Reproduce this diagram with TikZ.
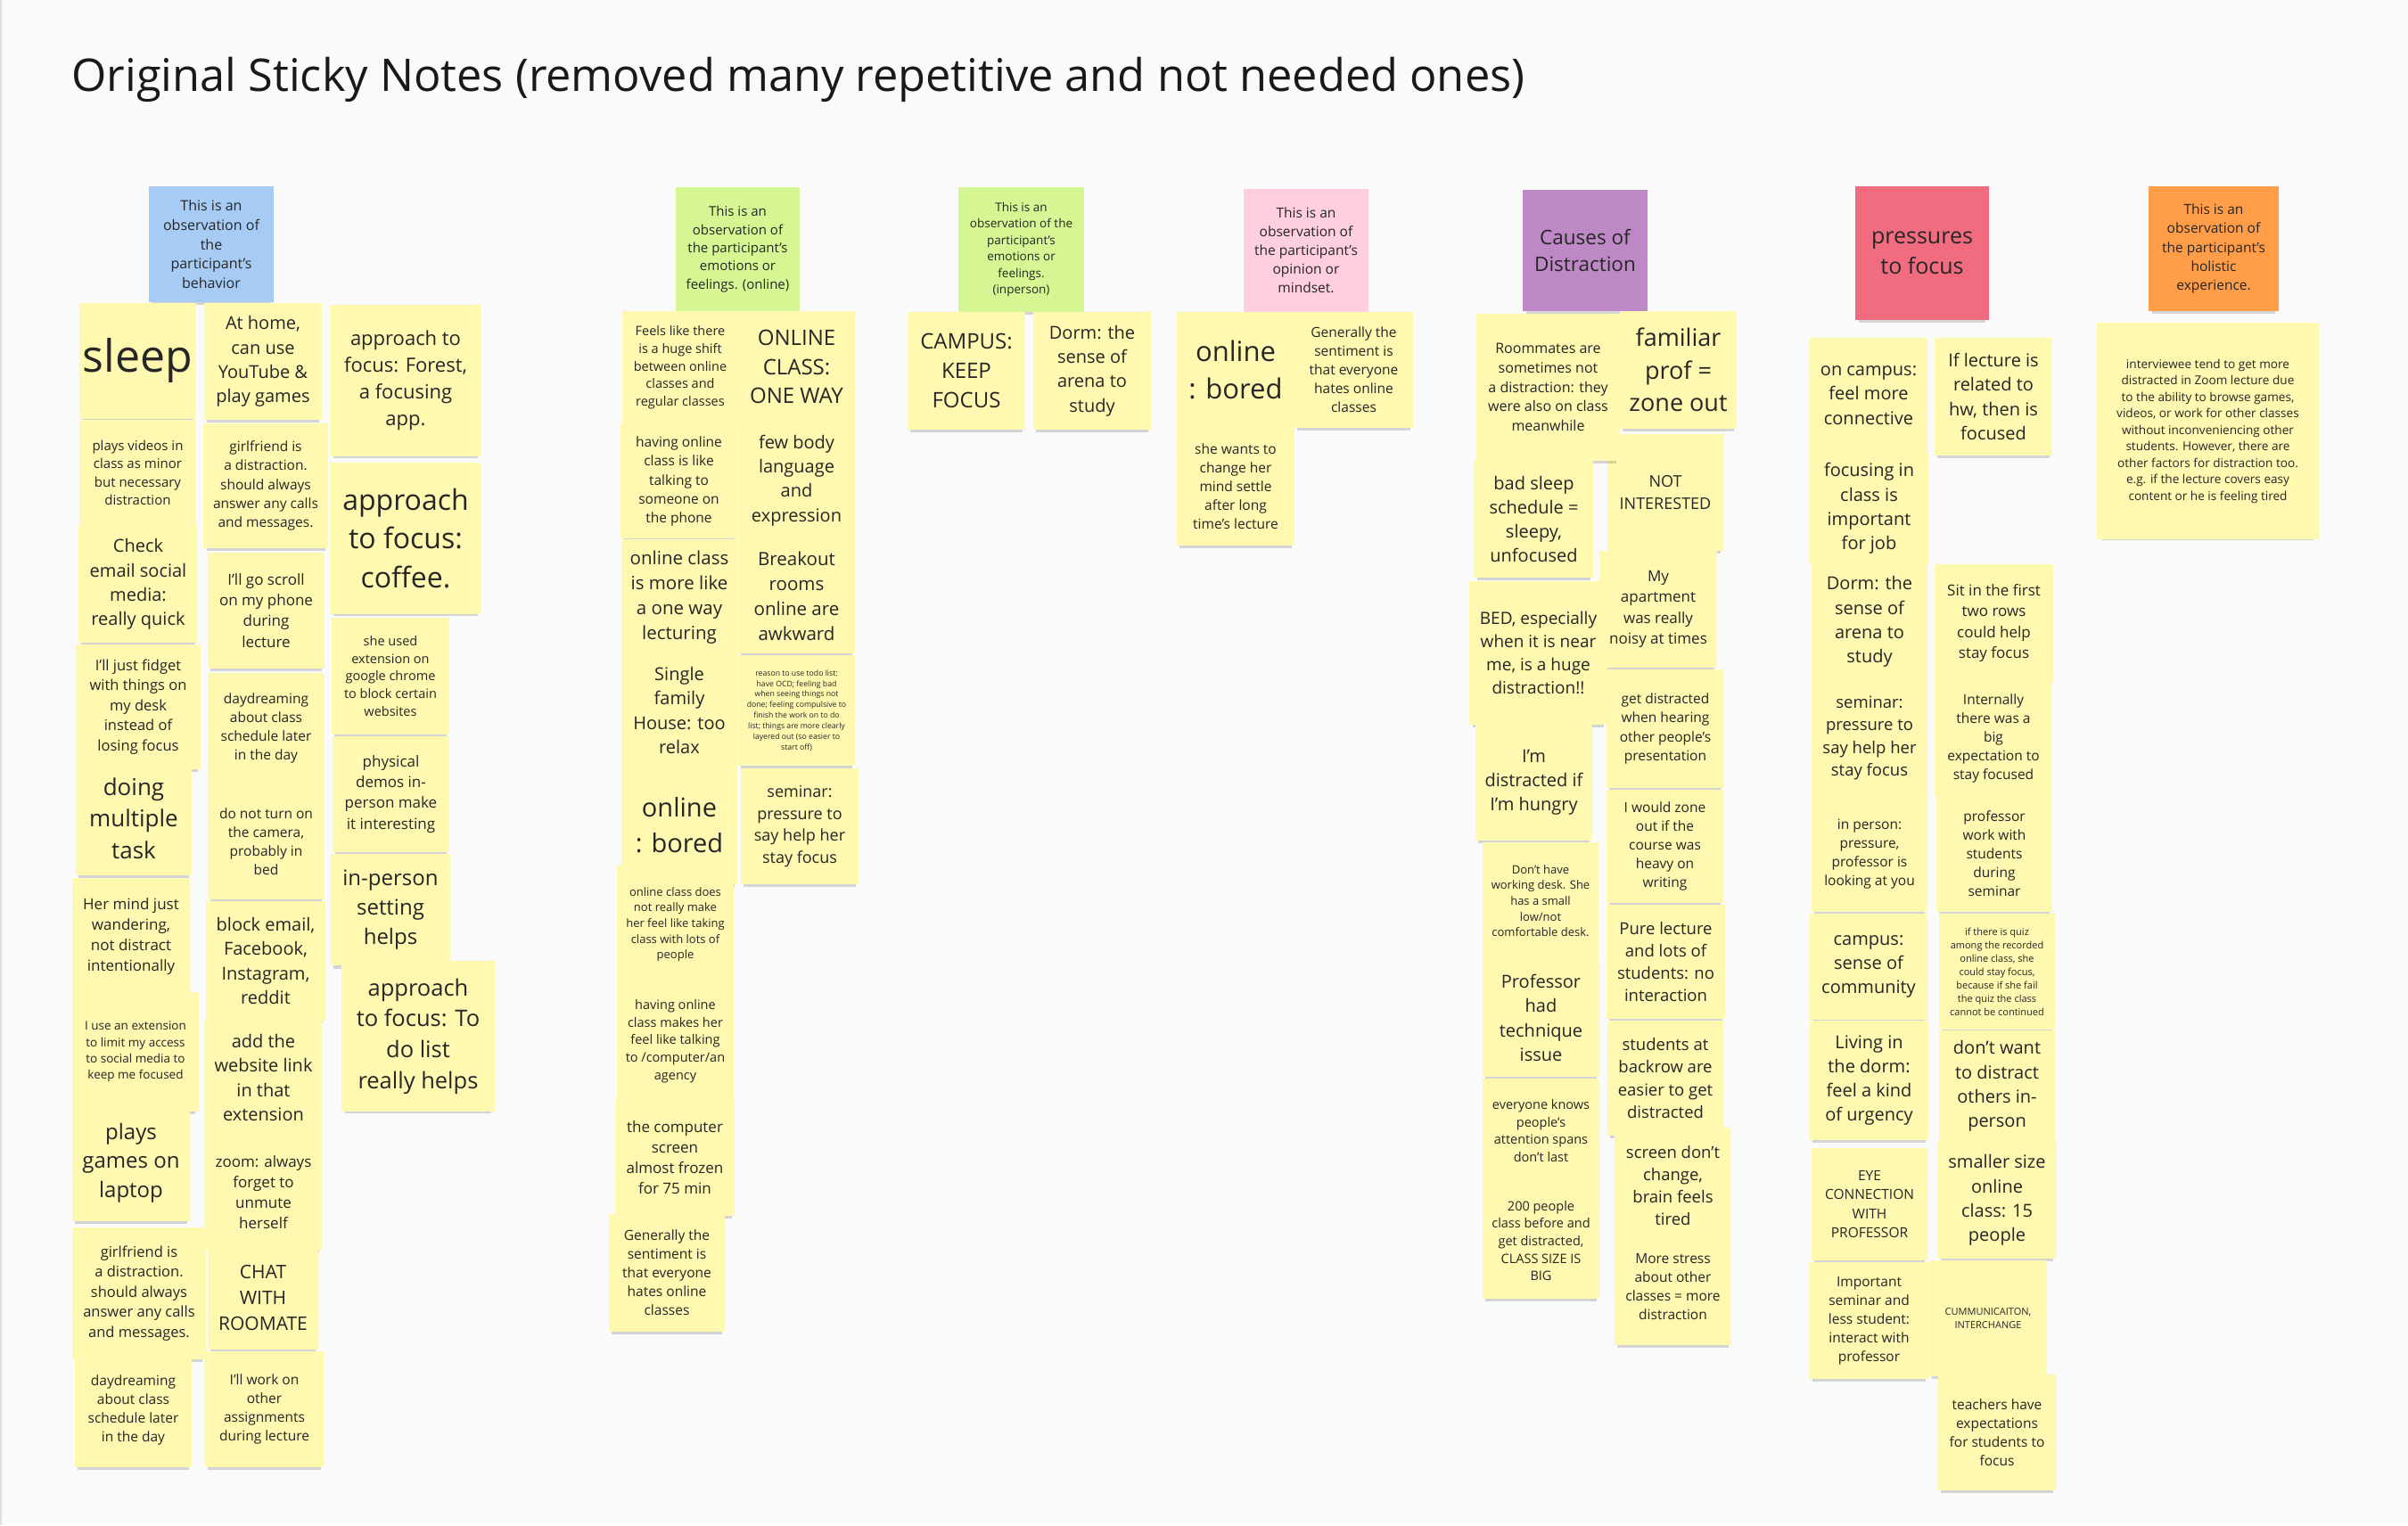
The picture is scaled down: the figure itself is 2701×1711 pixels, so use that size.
\documentclass[tikz,border=0pt]{standalone}
\usepackage{fontspec}
\setmainfont{Open Sans}
\usetikzlibrary{shadows}

\definecolor{paper}{HTML}{FAFAFA}
\definecolor{sticky}{HTML}{FFF8B0}
\definecolor{hblue}{HTML}{A6CCF5}
\definecolor{hgreen}{HTML}{D5F692}
\definecolor{hpink}{HTML}{FFCEE0}
\definecolor{hpurple}{HTML}{BE88C7}
\definecolor{hred}{HTML}{F16C7F}
\definecolor{horange}{HTML}{FF9D48}

\begin{document}
\begin{tikzpicture}[x=1pt, y=-1pt,
	note/.style={rectangle, fill=sticky, align=center, inner sep=0pt, text=black!85,
		general shadow={fill=black, opacity=.15, shadow yshift=-7pt, shadow scale=.95}},
	header/.style={note, fill=#1},
	wh/.style 2 args={minimum width=#1pt, minimum height=#2pt},
	fs/.style={font=\fontsize{#1}{\fpeval{1.36*#1}}\selectfont}]

	\useasboundingbox[fill=paper] (0,0) rectangle (2701,1711);
	\draw[black!12, line width=2pt] (1,0) -- (1,1711);
	\node[anchor=base west, fs=50.5, text=black!90] (title) at (77,102) {Original Sticky Notes (removed many repetitive and not needed ones)};

	% headers
	\node[header=hblue, wh={140}{130}, fs=16] (behav) at (237,274) {This is an\\observation of\\the\\participant’s\\behavior};
	\node[header=hgreen, wh={139}{139}, fs=15] (emoOn) at (827.5,279.5) {This is an\\observation of\\the participant’s\\emotions or\\feelings. (online)};
	\node[header=hgreen, wh={141}{140}, fs=13.5] (emoIn) at (1145.5,280) {This is an\\observation of the\\participant’s\\emotions or\\feelings.\\(inperson)};
	\node[header=hpink, wh={140}{138}, fs=15.5] (opinion) at (1465,281) {This is an\\observation of\\the participant’s\\opinion or\\mindset.};
	\node[header=hpurple, wh={140}{136}, fs=22.5] (causes) at (1778,281) {Causes of\\Distraction};
	\node[header=hred, wh={150}{150}, fs=25] (press) at (2156,284) {pressures\\to focus};
	\node[header=horange, wh={146}{140}, fs=15.5] (holist) at (2483,279) {This is an\\observation of\\the participant’s\\holistic\\experience.};

	% behaviour, first row
	\node[note, wh={131}{130}, fs=50] (sleep) at (154.5,405) {sleep};
	\node[note, wh={131}{119}, fs=15] (videos) at (154.5,530.5) {plays videos in\\class as minor\\but necessary\\distraction};
	\node[note, wh={134}{131}, fs=20] (email) at (155,655.5) {Check\\email social\\media:\\really quick};
	\node[note, wh={140}{140}, fs=16.5] (fidget) at (155,793) {I'll just fidget\\with things on\\my desk\\instead of\\losing focus};
	\node[note, wh={130}{128}, fs=26] (multi) at (150,918) {doing\\multiple\\task};
	\node[note, wh={132}{131}, fs=17] (mind) at (147,1050.5) {Her mind just\\wandering,\\not distract\\intentionally};
	\node[note, wh={142}{134}, fs=13.5] (limit) at (152,1180) {I use an extension\\to limit my access\\to social media to\\keep me focused};
	\node[note, wh={132}{131}, fs=24] (games) at (147,1304.5) {plays\\games on\\laptop};
	\node[note, wh={150}{148}, fs=16.5] (girlB) at (156,1451) {girlfriend is\\a distraction.\\should always\\answer any calls\\and messages.};
	\node[note, wh={131}{128}, fs=15.5] (dayB) at (149.5,1582) {daydreaming\\about class\\schedule later\\in the day};

	% behaviour, second row
	\node[note, wh={132}{131}, fs=20] (home) at (295,405.5) {At home,\\can use\\YouTube \&\\play games};
	\node[note, wh={140}{140}, fs=15.5] (girlA) at (298,545) {girlfriend is\\a distraction.\\should always\\answer any calls\\and messages.};
	\node[note, wh={131}{130}, fs=17] (scroll) at (298.5,685) {I'll go scroll\\on my phone\\during\\lecture};
	\node[note, wh={131}{124}, fs=15.5] (dayA) at (298.5,817) {daydreaming\\about class\\schedule later\\in the day};
	\node[note, wh={131}{130}, fs=15.5] (camera) at (298.5,944) {do not turn on\\the camera,\\probably in\\bed};
	\node[note, wh={134}{134}, fs=20] (block) at (298,1078) {block email,\\Facebook,\\Instagram,\\reddit};
	\node[note, wh={131}{128}, fs=20] (link) at (295.5,1209) {add the\\website link\\in that\\extension};
	\node[note, wh={131}{129}, fs=17] (unmute) at (295.5,1337.5) {zoom: always\\forget to\\unmute\\herself};
	\node[note, wh={124}{116}, fs=21] (chat) at (295,1456) {CHAT\\WITH\\ROOMATE};
	\node[note, wh={133}{130}, fs=15.5] (assign) at (296.5,1581) {I'll work on\\other\\assignments\\during lecture};

	% behaviour, third row
	\node[note, wh={170}{170}, fs=22] (forest) at (455,427) {approach to\\focus: Forest,\\a focusing\\app.};
	\node[note, wh={170}{170}, fs=32] (coffee) at (455,604) {approach\\to focus:\\coffee.};
	\node[note, wh={132}{131}, fs=14.5] (chrome) at (438,758.5) {she used\\extension on\\google chrome\\to block certain\\websites};
	\node[note, wh={131}{130}, fs=17] (demos) at (438.5,891) {physical\\demos in-\\person make\\it interesting};
	\node[note, wh={134}{125}, fs=24] (setting) at (438,1020.5) {in-person\\setting\\helps};
	\node[note, wh={172}{169}, fs=25.5] (todo) at (469,1162.5) {approach\\to focus: To\\do list\\really helps};

	% emotions online
	\node[note, wh={130}{127}, fs=14.5] (shift) at (763,412.5) {Feels like there\\is a huge shift\\between online\\classes and\\regular classes};
	\node[note, wh={131}{128}, fs=15.5] (phone) at (761.5,540) {having online\\class is like\\talking to\\someone on\\the phone};
	\node[note, wh={130}{130}, fs=20.5] (oneway) at (762,670) {online class\\is more like\\a one way\\lecturing};
	\node[note, wh={130}{124}, fs=20] (house) at (762,797) {Single\\family\\House: too\\relax};
	\node[note, wh={130}{133}, fs=29] (boredA) at (762,925.5) {online\\: bored};
	\node[note, wh={131}{132}, fs=13] (lots) at (757.5,1037) {online class does\\not really make\\her feel like taking\\class with lots of\\people};
	\node[note, wh={131}{130}, fs=14.5] (agency) at (757.5,1168) {having online\\class makes her\\feel like talking\\to /computer/an\\agency};
	\node[note, wh={134}{131}, fs=17] (frozen) at (757,1298.5) {the computer\\screen\\almost frozen\\for 75 min};
	\node[note, wh={130}{132}, fs=15.5] (hateA) at (748,1428) {Generally the\\sentiment is\\that everyone\\hates online\\classes};
	\node[note, wh={131}{125}, fs=24] (onewayB) at (893.5,411.5) {ONLINE\\CLASS:\\ONE WAY};
	\node[note, wh={131}{130}, fs=20] (body) at (893.5,539) {few body\\language\\and\\expression};
	\node[note, wh={131}{129}, fs=20.5] (breakout) at (893.5,668.5) {Breakout\\rooms\\online are\\awkward};
	\node[note, wh={131}{124}, fs=8.7] (reason) at (893.5,797) {reason to use todo list:\\have OCD; feeling bad\\when seeing things not\\done; feeling compulsive to\\finish the work on to do\\list; things are more clearly\\layered out (so easier to\\start off)};
	\node[note, wh={132}{130}, fs=18] (seminarA) at (897,927) {seminar:\\pressure to\\say help her\\stay focus};

	% emotions in person
	\node[note, wh={132}{132}, fs=24] (keep) at (1084,416) {CAMPUS:\\KEEP\\FOCUS};
	\node[note, wh={132}{132}, fs=20] (dormA) at (1225,416) {Dorm: the\\sense of\\arena to\\study};

	% opinion
	\node[note, wh={132}{130}, fs=31] (boredB) at (1386,415) {online\\: bored};
	\node[note, wh={133}{130}, fs=15.5] (hateB) at (1518.5,415) {Generally the\\sentiment is\\that everyone\\hates online\\classes};
	\node[note, wh={132}{132}, fs=15.5] (settle) at (1386,546) {she wants to\\change her\\mind settle\\after long\\time's lecture};

	% causes of distraction
	\node[note, wh={131}{132}, fs=27] (familiar) at (1882.5,415) {familiar\\prof =\\zone out};
	\node[note, wh={130}{131}, fs=18] (notint) at (1868,552.5) {NOT\\INTERESTED};
	\node[note, wh={132}{131}, fs=17] (noisy) at (1860,683.5) {My\\apartment\\was really\\noisy at times};
	\node[note, wh={132}{133}, fs=15.5] (present) at (1868,817.5) {get distracted\\when hearing\\other people's\\presentation};
	\node[note, wh={131}{127}, fs=15.5] (writing) at (1867.5,949.5) {I would zone\\out if the\\course was\\heavy on\\writing};
	\node[note, wh={133}{128}, fs=18.5] (pure) at (1868.5,1079) {Pure lecture\\and lots of\\students: no\\interaction};
	\node[note, wh={130}{129}, fs=18.5] (backrow) at (1868,1209.5) {students at\\backrow are\\easier to get\\distracted};
	\node[note, wh={131}{130}, fs=18.5] (screen) at (1876.5,1330) {screen don't\\change,\\brain feels\\tired};
	\node[note, wh={131}{131}, fs=15.5] (stress) at (1876.5,1443.5) {More stress\\about other\\classes = more\\distraction};
	\node[note, wh={161}{165}, fs=16] (roommates) at (1736.5,434.5) {Roommates are\\sometimes not\\a distraction: they\\were also on class\\meanwhile};
	\node[note, wh={133}{131}, fs=20] (badsleep) at (1720.5,582.5) {bad sleep\\schedule =\\sleepy,\\unfocused};
	\node[note, wh={155}{161}, fs=19] (bed) at (1725.5,732.5) {BED, especially\\when it is near\\me, is a huge\\distraction!!};
	\node[note, wh={131}{130}, fs=20] (hungry) at (1720.5,878) {I'm\\distracted if\\I'm hungry};
	\node[note, wh={130}{131}, fs=13] (desk) at (1728,1010.5) {Don't have\\working desk. She\\has a small\\low/not\\comfortable desk.};
	\node[note, wh={131}{132}, fs=20] (technique) at (1728.5,1142) {Professor\\had\\technique\\issue};
	\node[note, wh={131}{117}, fs=14.5] (spans) at (1728.5,1268.5) {everyone knows\\people's\\attention spans\\don't last};
	\node[note, wh={131}{130}, fs=14.5] (size) at (1728.5,1392) {200 people\\class before and\\get distracted,\\CLASS SIZE IS\\BIG};

	% pressures to focus
	\node[note, wh={132}{129}, fs=20] (connect) at (2096,443.5) {on campus:\\feel more\\connective};
	\node[note, wh={133}{125}, fs=20] (job) at (2096.5,570.5) {focusing in\\class is\\important\\for job};
	\node[note, wh={130}{129}, fs=20] (dormB) at (2097,697.5) {Dorm: the\\sense of\\arena to\\study};
	\node[note, wh={130}{132}, fs=18.5] (seminarB) at (2097,828) {seminar:\\pressure to\\say help her\\stay focus};
	\node[note, wh={130}{129}, fs=15.5] (looking) at (2097,958.5) {in person:\\pressure,\\professor is\\looking at you};
	\node[note, wh={132}{119}, fs=20] (community) at (2096,1084.5) {campus:\\sense of\\community};
	\node[note, wh={133}{134}, fs=20] (urgency) at (2096.5,1212) {Living in\\the dorm:\\feel a kind\\of urgency};
	\node[note, wh={130}{126}, fs=15.5] (eye) at (2097,1351) {EYE\\CONNECTION\\WITH\\PROFESSOR};
	\node[note, wh={133}{131}, fs=15.5] (interact) at (2096.5,1481.5) {Important\\seminar and\\less student:\\interact with\\professor};
	\node[note, wh={132}{132}, fs=20] (hw) at (2236,445) {If lecture is\\related to\\hw, then is\\focused};
	\node[note, wh={133}{132}, fs=17] (rows) at (2236.5,699) {Sit in the first\\two rows\\could help\\stay focus};
	\node[note, wh={132}{127}, fs=15.5] (intern) at (2236,828.5) {Internally\\there was a\\big\\expectation to\\stay focused};
	\node[note, wh={130}{131}, fs=15.5] (work) at (2237,957.5) {professor\\work with\\students\\during\\seminar};
	\node[note, wh={130}{130}, fs=11] (quiz) at (2240,1090) {if there is quiz\\among the recorded\\online class, she\\could stay focus,\\because if she fail\\the quiz the class\\cannot be continued};
	\node[note, wh={130}{125}, fs=20] (others) at (2240,1218.5) {don't want\\to distract\\others in-\\person};
	\node[note, wh={132}{131}, fs=20] (smaller) at (2240,1346.5) {smaller size\\online\\class: 15\\people};
	\node[note, wh={132}{130}, fs=11] (comm) at (2230,1479) {CUMMUNICAITON,\\INTERCHANGE};
	\node[note, wh={132}{130}, fs=15.5] (expect) at (2240,1607) {teachers have\\expectations\\for students to\\focus};

	% holistic experience
	\node[note, wh={249}{243}, fs=13.6] (zoomlec) at (2476.5,483.5) {interviewee tend to get more\\distracted in Zoom lecture due\\to the ability to browse games,\\videos, or work for other classes\\without inconveniencing other\\students. However, there are\\other factors for distraction too.\\e.g. if the lecture covers easy\\content or he is feeling tired};

\end{tikzpicture}
\end{document}
